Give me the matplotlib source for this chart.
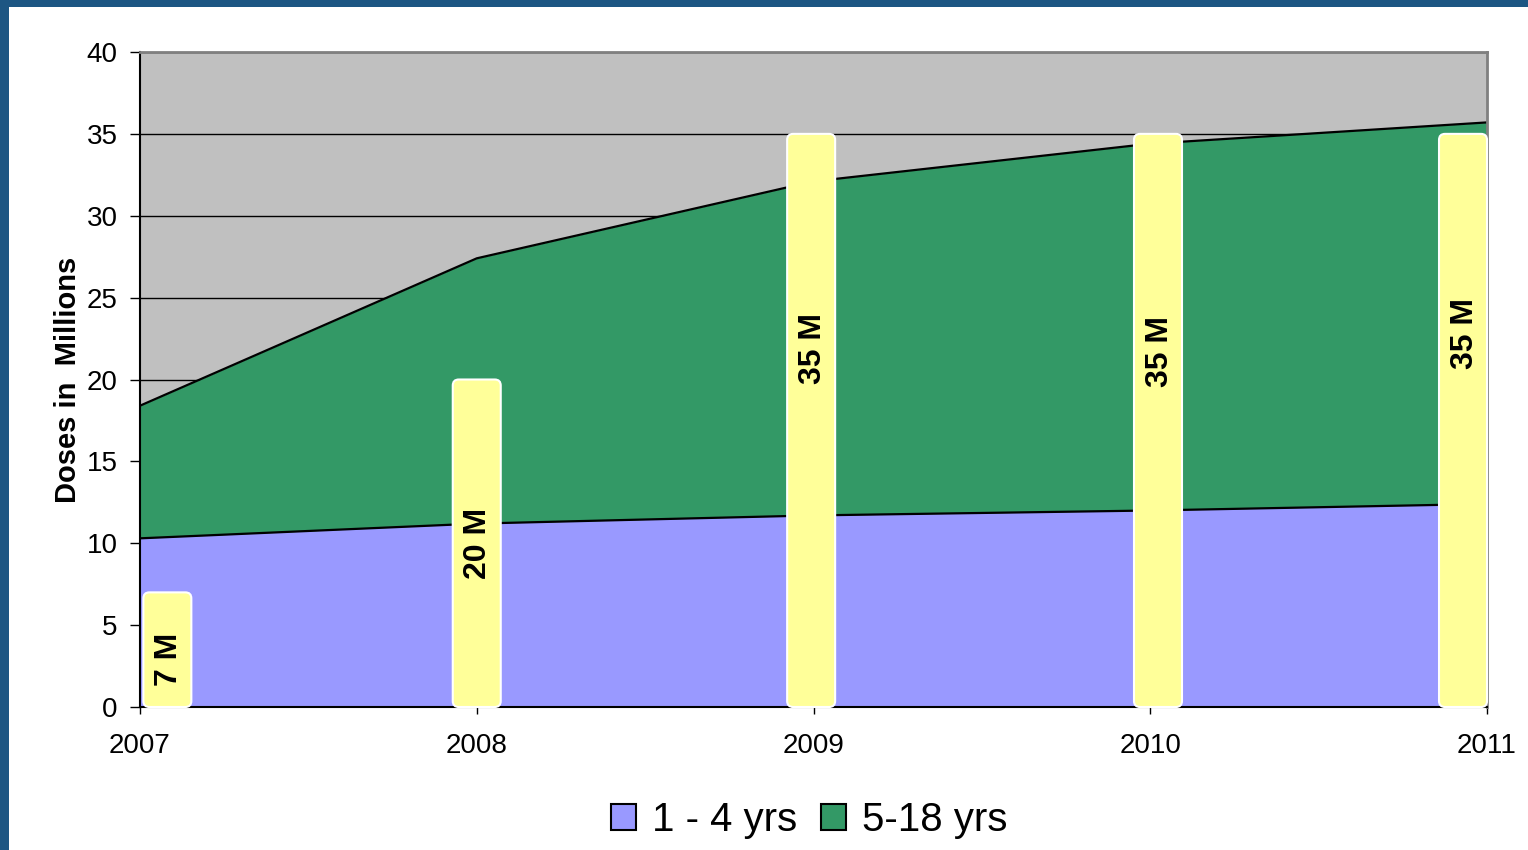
import matplotlib.pyplot as plt
from matplotlib.patches import FancyBboxPatch, Rectangle

plt.rcParams['font.family'] = ['Liberation Sans', 'DejaVu Sans']

years = [2007, 2008, 2009, 2010, 2011]
ages_1_4 = [10.3, 11.2, 11.7, 12.0, 12.4]
ages_5_18 = [8.1, 16.2, 20.4, 22.4, 23.3]
target_doses = [7, 20, 35, 35, 35]
target_labels = ['7 M', '20 M', '35 M', '35 M', '35 M']

total = [a + b for a, b in zip(ages_1_4, ages_5_18)]

fig = plt.figure(figsize=(15.28, 8.5), dpi=100)

# blue slide frame on top and left
fig.patches.append(Rectangle((0, 1 - 7 / 850), 1, 7 / 850, transform=fig.transFigure,
                             facecolor='#1d5683', edgecolor='none'))
fig.patches.append(Rectangle((0, 0), 9 / 1528, 1, transform=fig.transFigure,
                             facecolor='#1d5683', edgecolor='none'))

ax = fig.add_axes([140 / 1528, 1 - 707 / 850, 1347 / 1528, 655 / 850])
ax.set_facecolor('#c0c0c0')
ax.set_xlim(2007, 2011)
ax.set_ylim(0, 40)
ax.set_yticks(range(0, 41, 5))
ax.set_xticks(years)
ax.grid(axis='y', color='black', linewidth=1.0, zorder=1)
ax.set_axisbelow(True)

ax.fill_between(years, 0, ages_1_4, color='#9999ff', linewidth=0, zorder=2, label='1 - 4 yrs')
ax.fill_between(years, ages_1_4, total, color='#339966', linewidth=0, zorder=2, label='5-18 yrs')
ax.plot(years, ages_1_4, color='black', linewidth=1.6, zorder=2.2)
ax.plot(years, total, color='black', linewidth=1.6, zorder=2.2)

# rounded yellow target columns
bar_w = 0.1425
px_x = 1347 / 4
px_y = 655 / 40
rad = 6 / px_x
label_y = [2.9, 10.0, 21.9, 21.7, 22.8]
nudge = [0, 0, -0.007, 0.023, 0]
for yr, val, txt, ly, dx in zip(years, target_doses, target_labels, label_y, nudge):
    left = min(max(yr + dx - bar_w / 2, 2007.01), 2011 - bar_w)
    box = FancyBboxPatch((left, 0), bar_w, val,
                         boxstyle='round,pad=0,rounding_size=%f' % rad,
                         mutation_aspect=px_x / px_y,
                         facecolor='#ffff99', edgecolor='white', linewidth=1.5,
                         zorder=3, clip_on=False)
    ax.add_patch(box)
    ax.text(left + bar_w / 2 + 0.005, ly, txt, rotation=90, ha='center', va='center',
            fontsize=23, fontweight='bold', zorder=4)

for side in ['top', 'right']:
    ax.spines[side].set_color('#808080')
    ax.spines[side].set_linewidth(2)
for side in ['left', 'bottom']:
    ax.spines[side].set_color('black')
    ax.spines[side].set_linewidth(1.5)

ax.tick_params(axis='y', length=7, width=1, pad=9, labelsize=20)
ax.tick_params(axis='x', length=5, width=1, pad=14, labelsize=20)

ax.set_ylabel('Doses in  Millions', fontsize=21, fontweight='bold')
ax.yaxis.set_label_coords(-0.043, 0.5)

leg = fig.legend(loc='center', bbox_to_anchor=(809 / 1528, 1 - 820 / 850), ncol=2,
                 frameon=False, fontsize=29, handlelength=0.63, handleheight=0.63,
                 handletextpad=0.38, columnspacing=0.6)
for h in leg.legend_handles:
    h.set_edgecolor('black')
    h.set_linewidth(1.5)

fig.savefig('out.png', dpi=100)
